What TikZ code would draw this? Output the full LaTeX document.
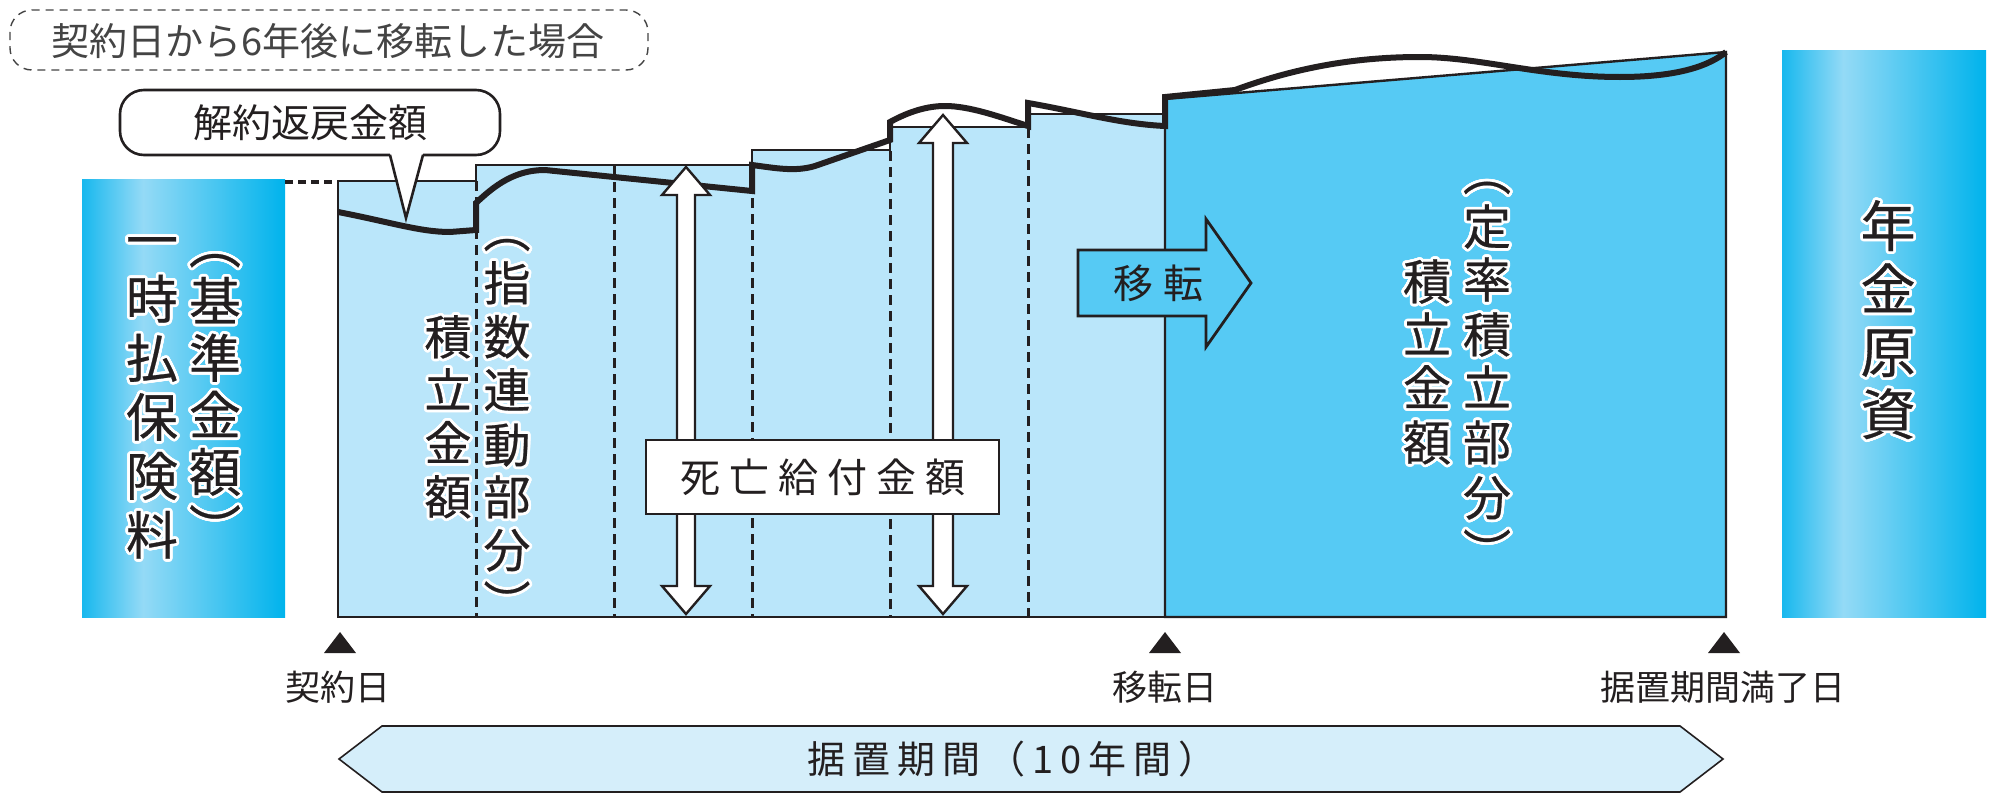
\documentclass[tikz,border=0pt]{standalone}
\usepackage{fontspec}
\setmainfont{Noto Sans CJK JP}
\newfontfamily\jpb[FakeBold=0.5]{Noto Sans CJK JP}
\usepackage{contour}
\contourlength{1.4pt}
\contournumber{20}
\definecolor{ink}{HTML}{231F20}
\definecolor{lightreg}{HTML}{BAE6FA}
\definecolor{fixreg}{HTML}{56CAF4}
\definecolor{colA}{HTML}{18B8EE}
\definecolor{colL}{HTML}{94DAF6}
\definecolor{colB}{HTML}{00B3EC}
\definecolor{barfill}{HTML}{D5EEFA}
\definecolor{dashgray}{HTML}{444444}
\pgfdeclarehorizontalshading{colshade}{100bp}{color(0bp)=(colA); color(25bp)=(colA); color(40bp)=(colL); color(75bp)=(colB); color(100bp)=(colB)}
\newcommand\gpA{\hspace{4.5pt}}
\newcommand\gpB{\hspace{3.5pt}}
\tikzset{
  thinline/.style={draw=ink, line width=1.2pt, line join=miter},
  dashline/.style={draw=ink, line width=1.5pt, dash pattern=on 5pt off 3pt},
  curveline/.style={draw=ink, line width=3pt, line join=miter, line cap=butt},
  vch/.style={inner sep=0pt, anchor=center, text=ink, text height=0.88em, text depth=0.12em},
  lbl/.style={inner sep=0pt, text=ink, font=\fontsize{17.5pt}{20pt}\selectfont},
  tri/.style={fill=ink},
}
\begin{document}
\begin{tikzpicture}[x=0.5pt,y=-0.5pt]
\useasboundingbox (0,0) rectangle (2000,803);
% side columns
\shade[shading=colshade] (82,179) rectangle (285,617);
\shade[shading=colshade] (1782,50) rectangle (1986,617);
% dashed connector
\coordinate (cA) at (285,182);
\coordinate (cB) at (338,182);
\draw[ink, line width=1.6pt, dash pattern=on 4pt off 2.5pt] (cA) -- (cB);
% light region
\fill[lightreg] (338,617) -- (338,181) -- (476,181) -- (476,165) -- (752,165) -- (752,150) -- (890,150) -- (890,127) -- (1028,127) -- (1028,114) -- (1165,114) -- (1165,617) -- cycle;
\draw[thinline] (1165,114) -- (1028,114) -- (1028,127) -- (890,127) -- (890,150) -- (752,150) -- (752,165) -- (476,165) -- (476,181) -- (338,181) -- (338,617) -- (1165,617);
% fixed region
\filldraw[fill=fixreg, thinline] (1165,617) -- (1165,99) -- (1726,52) -- (1726,617) -- cycle;
% dashed verticals
\draw[dashline] (476,181) -- (476,617);
\draw[dashline] (614,166) -- (614,617);
\draw[dashline] (752,166) -- (752,617);
\draw[dashline] (890,151) -- (890,617);
\draw[dashline] (1028,128) -- (1028,617);
% value curve
\draw[curveline] (338,212) .. controls (390,222) and (420,232) .. (450,232) -- (476,230) -- (476,203)
  .. controls (495,185) and (515,170) .. (545,170) -- (752,191) -- (752,165)
  .. controls (775,168) and (795,172) .. (815,166) -- (890,140) -- (890,122)
  .. controls (910,111) and (928,106) .. (945,106) .. controls (970,106) and (1000,117) .. (1028,126) -- (1028,103)
  .. controls (1080,112) and (1120,124) .. (1165,126) -- (1165,97) -- (1235,90)
  .. controls (1300,66) and (1360,57) .. (1420,57) .. controls (1480,57) and (1540,77) .. (1620,77)
  .. controls (1680,77) and (1710,65) .. (1726,52);
% callout
\draw[ink, line width=1.3pt, fill=white, rounded corners=12pt] (120,90) rectangle (500,155);
\fill[white] (390,153) -- (406,218) -- (423,153) -- cycle;
\draw[ink, line width=1.3pt, line join=miter] (390,155) -- (406,218) -- (423,155);
\node[inner sep=0pt, text=ink, font=\fontsize{19.5pt}{22pt}\selectfont] (callout) at (310,123) {解約返戻金額};
% death benefit arrows
\filldraw[fill=white, draw=ink, line width=1.2pt, line join=miter] (686,167) -- (710,195) -- (695,195) -- (695,586) -- (710,586) -- (686,614) -- (662,586) -- (677,586) -- (677,195) -- (662,195) -- cycle;
\filldraw[fill=white, draw=ink, line width=1.2pt, line join=miter] (943,115) -- (967,143) -- (953,143) -- (953,586) -- (967,586) -- (943,614) -- (919,586) -- (933,586) -- (933,143) -- (919,143) -- cycle;
\node[draw=ink, fill=white, line width=1.3pt, minimum width=176.5pt, minimum height=37pt, inner sep=0pt, text=ink, font=\fontsize{20pt}{22pt}\selectfont] (death) at (822.5,477) {死\gpA 亡\gpA 給\gpA 付\gpA 金\gpA 額};
% transfer arrow
\filldraw[fill=fixreg, draw=ink, line width=1.4pt, line join=miter] (1078,250) -- (1206,250) -- (1206,219) -- (1251,283) -- (1206,347) -- (1206,316) -- (1078,316) -- cycle;
\node[inner sep=0pt, text=ink, font=\fontsize{20pt}{22pt}\selectfont] (move) at (1158,283) {移\hspace{5pt}転};
% vertical texts (one node per character cell, white halo)
\foreach \c/\yy [count=\i] in {一/252,時/311,払/370,保/429,険/488,料/547}
  \node[vch, font=\jpb\fontsize{26pt}{30pt}\selectfont] (ta\i) at (152,\yy) {\contour{white}{\c}};
\foreach \c/\yy [count=\i] in {︵/256,基/313,準/370,金/427,額/484,︶/541}
  \node[vch, font=\jpb\fontsize{26pt}{30pt}\selectfont] (tb\i) at (215,\yy) {\contour{white}{\c}};
\foreach \c/\yy [count=\i] in {︵/240,指/293,数/347,連/400,動/455,部/507,分/560,︶/613}
  \node[vch, font=\jpb\fontsize{23.5pt}{28pt}\selectfont] (tc\i) at (507,\yy) {\contour{white}{\c}};
\foreach \c/\yy [count=\i] in {積/347,立/400,金/453,額/507}
  \node[vch, font=\jpb\fontsize{23.5pt}{28pt}\selectfont] (td\i) at (448,\yy) {\contour{white}{\c}};
\foreach \c/\yy [count=\i] in {︵/183,定/237,率/290,積/345,立/398,部/453,分/508,︶/562}
  \node[vch, font=\jpb\fontsize{24pt}{28pt}\selectfont] (te\i) at (1487,\yy) {\contour{white}{\c}};
\foreach \c/\yy [count=\i] in {積/292,立/345,金/398,額/453}
  \node[vch, font=\jpb\fontsize{24pt}{28pt}\selectfont] (tf\i) at (1427,\yy) {\contour{white}{\c}};
\foreach \c/\yy [count=\i] in {年/239,金/302,原/365,資/427}
  \node[vch, font=\jpb\fontsize{27.5pt}{30pt}\selectfont] (tg\i) at (1888,\yy) {\contour{white}{\c}};
% time markers
\fill[tri] (324,653) -- (340,632) -- (356,653) -- cycle;
\fill[tri] (1149,653) -- (1165,632) -- (1181,653) -- cycle;
\fill[tri] (1708,653) -- (1724,632) -- (1740,653) -- cycle;
\node[lbl] (d1) at (338,687) {契約日};
\node[lbl] (d2) at (1165,687) {移転日};
\node[lbl] (d3) at (1723,687) {据置期間満了日};
% period bar
\filldraw[fill=barfill, draw=ink, line width=0.8pt, line join=miter] (339,759) -- (382,726) -- (1680,726) -- (1723,759) -- (1680,792) -- (382,792) -- cycle;
\node[inner sep=0pt, text=ink, font=\fontsize{19pt}{22pt}\selectfont] (period) at (1012,759) {据\gpB 置\gpB 期\gpB 間\gpB （\gpB 1\gpB 0\gpB 年\gpB 間\gpB ）};
% title box
\draw[dashgray, line width=0.7pt, dash pattern=on 4pt off 3pt, rounded corners=11pt] (10,10) rectangle (648,70);
\node[inner sep=0pt, text=dashgray, font=\fontsize{19pt}{22pt}\selectfont] (title) at (328,41) {契約日から6年後に移転した場合};
\end{tikzpicture}
\end{document}
